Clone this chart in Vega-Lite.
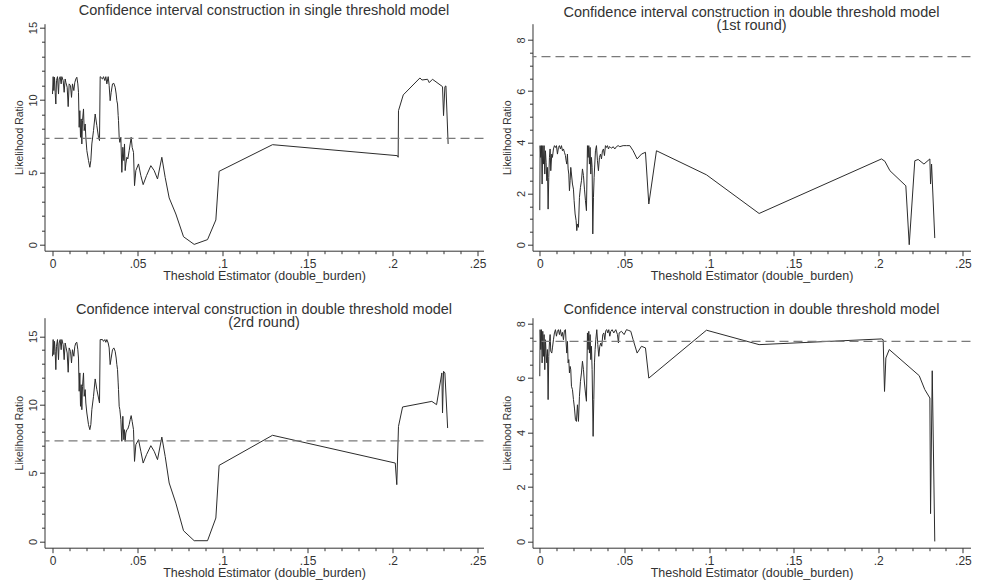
{
  "$schema": "https://vega.github.io/schema/vega-lite/v6.json",
  "background": "white",
  "padding": {"left": 14.5, "top": 2.7, "right": 5, "bottom": 5},
  "datasets": {
    "crit": [{"lr": 7.35}],
    "p1": [
      {"x":0,"lr":10.41},{"x":0.00039,"lr":11.61},{"x":0.00078,"lr":10.65},{"x":0.00118,"lr":11.57},{"x":0.00157,"lr":10.53},{"x":0.00196,"lr":9.72},{"x":0.00235,"lr":11.34},{"x":0.00294,"lr":11.61},{"x":0.00353,"lr":10.41},{"x":0.00392,"lr":11.45},{"x":0.00451,"lr":11.61},{"x":0.0051,"lr":11.11},{"x":0.00549,"lr":11.61},{"x":0.00627,"lr":11.34},{"x":0.00686,"lr":10.53},{"x":0.00745,"lr":11.45},{"x":0.00784,"lr":11.22},{"x":0.00863,"lr":10.88},{"x":0.00922,"lr":9.54},{"x":0.0098,"lr":11.11},{"x":0.01059,"lr":10.99},{"x":0.01118,"lr":10.18},{"x":0.01176,"lr":11.11},{"x":0.01255,"lr":10.65},{"x":0.01314,"lr":11.22},{"x":0.01373,"lr":11.45},{"x":0.01431,"lr":11.57},{"x":0.0149,"lr":11.11},{"x":0.01529,"lr":10.53},{"x":0.01569,"lr":8.11},{"x":0.01608,"lr":9.26},{"x":0.01647,"lr":7.42},{"x":0.01686,"lr":8.69},{"x":0.01725,"lr":6.96},{"x":0.01765,"lr":8.57},{"x":0.01824,"lr":9.38},{"x":0.01863,"lr":7.88},{"x":0.01922,"lr":8.34},{"x":0.01961,"lr":7.42},{"x":0.0202,"lr":6.5},{"x":0.02118,"lr":5.81},{"x":0.02196,"lr":5.35},{"x":0.02255,"lr":5.81},{"x":0.02314,"lr":6.96},{"x":0.02412,"lr":7.88},{"x":0.0251,"lr":9.03},{"x":0.02608,"lr":8.23},{"x":0.02706,"lr":7.42},{"x":0.02765,"lr":7.19},{"x":0.02804,"lr":11.61},{"x":0.02941,"lr":11.45},{"x":0.03,"lr":11.61},{"x":0.03078,"lr":11.34},{"x":0.03137,"lr":11.61},{"x":0.03196,"lr":11.11},{"x":0.03275,"lr":11.61},{"x":0.03333,"lr":10.99},{"x":0.03392,"lr":9.95},{"x":0.03451,"lr":10.53},{"x":0.03529,"lr":11.11},{"x":0.03608,"lr":11.15},{"x":0.03686,"lr":10.88},{"x":0.03745,"lr":10.41},{"x":0.03784,"lr":9.95},{"x":0.03824,"lr":9.72},{"x":0.03863,"lr":8.92},{"x":0.03882,"lr":8.57},{"x":0.03922,"lr":7.42},{"x":0.03961,"lr":7.07},{"x":0.0402,"lr":7.42},{"x":0.04078,"lr":5.0},{"x":0.04137,"lr":6.73},{"x":0.04196,"lr":5.81},{"x":0.04235,"lr":6.96},{"x":0.04275,"lr":5.12},{"x":0.04314,"lr":5.58},{"x":0.04373,"lr":6.04},{"x":0.04431,"lr":5.92},{"x":0.0451,"lr":6.5},{"x":0.04569,"lr":6.96},{"x":0.04627,"lr":7.42},{"x":0.04686,"lr":6.73},{"x":0.04765,"lr":6.38},{"x":0.04824,"lr":4.08},{"x":0.04902,"lr":5.12},{"x":0.05059,"lr":5.58},{"x":0.05196,"lr":4.77},{"x":0.05333,"lr":4.15},{"x":0.05529,"lr":4.77},{"x":0.05784,"lr":5.46},{"x":0.0598,"lr":5.12},{"x":0.06176,"lr":4.54},{"x":0.06431,"lr":6.04},{"x":0.06627,"lr":4.65},{"x":0.06863,"lr":3.23},{"x":0.07255,"lr":2.12},{"x":0.07706,"lr":0.55},{"x":0.08333,"lr":0.02},{"x":0.09118,"lr":0.35},{"x":0.09608,"lr":1.71},{"x":0.098,"lr":5.07},{"x":0.1294,"lr":6.91},{"x":0.2029,"lr":6.15},{"x":0.2033,"lr":6.04},{"x":0.2035,"lr":9.26},{"x":0.2063,"lr":10.35},{"x":0.2161,"lr":11.52},{"x":0.2173,"lr":11.38},{"x":0.2206,"lr":11.43},{"x":0.2216,"lr":11.2},{"x":0.2235,"lr":11.43},{"x":0.2294,"lr":10.92},{"x":0.23,"lr":8.92},{"x":0.2308,"lr":10.92},{"x":0.2314,"lr":10.97},{"x":0.2327,"lr":6.96}
    ],
    "p2": [
      {"x":0,"lr":1.35},{"x":0.0002,"lr":3.87},{"x":0.00059,"lr":3.41},{"x":0.00099,"lr":3.87},{"x":0.00138,"lr":2.37},{"x":0.00177,"lr":3.87},{"x":0.00217,"lr":3.15},{"x":0.00256,"lr":3.87},{"x":0.00296,"lr":2.76},{"x":0.00335,"lr":3.67},{"x":0.00374,"lr":3.22},{"x":0.00414,"lr":2.5},{"x":0.00453,"lr":3.02},{"x":0.00493,"lr":1.39},{"x":0.00532,"lr":2.63},{"x":0.00571,"lr":3.41},{"x":0.00611,"lr":3.74},{"x":0.0065,"lr":2.89},{"x":0.00709,"lr":3.54},{"x":0.00749,"lr":3.41},{"x":0.00808,"lr":3.74},{"x":0.00867,"lr":3.87},{"x":0.00926,"lr":3.8},{"x":0.00985,"lr":3.87},{"x":0.01044,"lr":3.54},{"x":0.01103,"lr":3.8},{"x":0.01162,"lr":3.87},{"x":0.01221,"lr":3.74},{"x":0.01281,"lr":3.87},{"x":0.0134,"lr":3.67},{"x":0.01399,"lr":3.74},{"x":0.01458,"lr":3.61},{"x":0.01517,"lr":3.48},{"x":0.01556,"lr":3.28},{"x":0.01596,"lr":3.15},{"x":0.01635,"lr":3.54},{"x":0.01675,"lr":2.96},{"x":0.01714,"lr":2.76},{"x":0.01753,"lr":2.11},{"x":0.01793,"lr":2.5},{"x":0.01832,"lr":3.02},{"x":0.01872,"lr":2.76},{"x":0.01931,"lr":2.37},{"x":0.0199,"lr":2.17},{"x":0.02029,"lr":1.72},{"x":0.02088,"lr":1.2},{"x":0.02147,"lr":0.94},{"x":0.02187,"lr":0.55},{"x":0.02226,"lr":0.81},{"x":0.02285,"lr":0.68},{"x":0.02344,"lr":1.85},{"x":0.02403,"lr":2.24},{"x":0.02463,"lr":2.5},{"x":0.02522,"lr":2.96},{"x":0.02581,"lr":2.7},{"x":0.0264,"lr":2.17},{"x":0.02699,"lr":1.72},{"x":0.02758,"lr":1.33},{"x":0.02817,"lr":3.87},{"x":0.02857,"lr":3.41},{"x":0.02896,"lr":3.87},{"x":0.02935,"lr":3.15},{"x":0.02975,"lr":3.8},{"x":0.03014,"lr":2.76},{"x":0.03054,"lr":3.41},{"x":0.03093,"lr":3.02},{"x":0.03132,"lr":0.42},{"x":0.03172,"lr":1.85},{"x":0.03211,"lr":2.63},{"x":0.03251,"lr":3.15},{"x":0.0329,"lr":3.67},{"x":0.03349,"lr":3.87},{"x":0.03408,"lr":3.28},{"x":0.03467,"lr":2.89},{"x":0.03526,"lr":3.41},{"x":0.03586,"lr":3.54},{"x":0.03645,"lr":3.35},{"x":0.03704,"lr":3.67},{"x":0.03763,"lr":3.74},{"x":0.03822,"lr":3.48},{"x":0.03881,"lr":3.87},{"x":0.0394,"lr":3.8},{"x":0.03999,"lr":3.87},{"x":0.04058,"lr":3.74},{"x":0.04117,"lr":3.83},{"x":0.04177,"lr":3.8},{"x":0.04255,"lr":3.77},{"x":0.04334,"lr":3.83},{"x":0.04433,"lr":3.74},{"x":0.04531,"lr":3.83},{"x":0.0463,"lr":3.87},{"x":0.04728,"lr":3.83},{"x":0.04925,"lr":3.87},{"x":0.05122,"lr":3.87},{"x":0.05319,"lr":3.87},{"x":0.05516,"lr":3.67},{"x":0.05753,"lr":3.35},{"x":0.06009,"lr":3.54},{"x":0.06245,"lr":3.61},{"x":0.06442,"lr":1.59},{"x":0.06895,"lr":3.67},{"x":0.0985,"lr":2.73},{"x":0.1296,"lr":1.22},{"x":0.2019,"lr":3.35},{"x":0.2039,"lr":3.26},{"x":0.2069,"lr":2.89},{"x":0.2163,"lr":2.3},{"x":0.2183,"lr":0.0},{"x":0.2216,"lr":3.28},{"x":0.2236,"lr":3.33},{"x":0.227,"lr":3.15},{"x":0.2305,"lr":3.35},{"x":0.2309,"lr":2.37},{"x":0.2315,"lr":3.15},{"x":0.2334,"lr":0.26}
    ],
    "p3": [
      {"x":0,"lr":13.54},{"x":0.00039,"lr":14.76},{"x":0.00078,"lr":13.66},{"x":0.00118,"lr":14.63},{"x":0.00157,"lr":13.9},{"x":0.00196,"lr":12.56},{"x":0.00235,"lr":14.27},{"x":0.00294,"lr":14.76},{"x":0.00353,"lr":13.29},{"x":0.00392,"lr":14.51},{"x":0.00451,"lr":14.76},{"x":0.0051,"lr":14.02},{"x":0.00549,"lr":14.76},{"x":0.00627,"lr":14.39},{"x":0.00686,"lr":13.29},{"x":0.00745,"lr":14.51},{"x":0.00784,"lr":14.27},{"x":0.00863,"lr":13.78},{"x":0.00922,"lr":12.37},{"x":0.0098,"lr":14.15},{"x":0.01059,"lr":13.9},{"x":0.01118,"lr":13.05},{"x":0.01176,"lr":14.02},{"x":0.01255,"lr":13.54},{"x":0.01314,"lr":14.27},{"x":0.01373,"lr":14.51},{"x":0.01431,"lr":14.56},{"x":0.0149,"lr":14.02},{"x":0.01529,"lr":13.41},{"x":0.01569,"lr":10.98},{"x":0.01608,"lr":12.32},{"x":0.01647,"lr":9.88},{"x":0.01686,"lr":11.46},{"x":0.01725,"lr":9.63},{"x":0.01765,"lr":11.34},{"x":0.01824,"lr":12.32},{"x":0.01863,"lr":10.61},{"x":0.01922,"lr":11.1},{"x":0.01961,"lr":10.12},{"x":0.0202,"lr":9.39},{"x":0.02118,"lr":8.54},{"x":0.02196,"lr":8.17},{"x":0.02255,"lr":8.54},{"x":0.02314,"lr":9.63},{"x":0.02412,"lr":10.61},{"x":0.0251,"lr":11.88},{"x":0.02608,"lr":11.1},{"x":0.02706,"lr":10.49},{"x":0.02765,"lr":10.12},{"x":0.02804,"lr":14.76},{"x":0.02941,"lr":14.76},{"x":0.03,"lr":14.63},{"x":0.03078,"lr":14.76},{"x":0.03137,"lr":14.56},{"x":0.03196,"lr":14.76},{"x":0.03275,"lr":14.51},{"x":0.03333,"lr":14.15},{"x":0.03392,"lr":12.93},{"x":0.03451,"lr":13.41},{"x":0.03529,"lr":14.02},{"x":0.03608,"lr":14.15},{"x":0.03686,"lr":13.9},{"x":0.03745,"lr":13.41},{"x":0.03784,"lr":12.93},{"x":0.03824,"lr":12.56},{"x":0.03863,"lr":11.59},{"x":0.03882,"lr":11.1},{"x":0.03922,"lr":9.88},{"x":0.03961,"lr":9.63},{"x":0.0402,"lr":8.9},{"x":0.04078,"lr":7.32},{"x":0.04137,"lr":9.15},{"x":0.04196,"lr":7.44},{"x":0.04235,"lr":8.17},{"x":0.04275,"lr":7.32},{"x":0.04314,"lr":7.93},{"x":0.04373,"lr":8.17},{"x":0.04431,"lr":8.22},{"x":0.0451,"lr":8.54},{"x":0.04569,"lr":8.9},{"x":0.04627,"lr":9.2},{"x":0.04686,"lr":8.78},{"x":0.04765,"lr":8.17},{"x":0.04824,"lr":5.85},{"x":0.04902,"lr":7.07},{"x":0.05059,"lr":7.44},{"x":0.05196,"lr":6.59},{"x":0.05333,"lr":5.73},{"x":0.05529,"lr":6.34},{"x":0.05784,"lr":7.0},{"x":0.0598,"lr":6.59},{"x":0.06176,"lr":5.98},{"x":0.06431,"lr":7.63},{"x":0.06627,"lr":6.22},{"x":0.06863,"lr":4.27},{"x":0.07255,"lr":2.8},{"x":0.07706,"lr":0.78},{"x":0.08333,"lr":0.05},{"x":0.09118,"lr":0.05},{"x":0.09608,"lr":1.71},{"x":0.098,"lr":5.56},{"x":0.1294,"lr":7.76},{"x":0.2016,"lr":5.73},{"x":0.2025,"lr":4.15},{"x":0.2035,"lr":8.41},{"x":0.2059,"lr":9.83},{"x":0.2231,"lr":10.24},{"x":0.2259,"lr":10.0},{"x":0.229,"lr":12.32},{"x":0.2294,"lr":9.39},{"x":0.23,"lr":12.44},{"x":0.2308,"lr":12.32},{"x":0.2324,"lr":8.29}
    ],
    "p4": [
      {"x":0,"lr":6.07},{"x":0.0002,"lr":7.78},{"x":0.00059,"lr":7.05},{"x":0.00099,"lr":7.78},{"x":0.00138,"lr":6.56},{"x":0.00177,"lr":7.72},{"x":0.00217,"lr":6.8},{"x":0.00256,"lr":7.6},{"x":0.00296,"lr":6.31},{"x":0.00335,"lr":7.41},{"x":0.00374,"lr":6.92},{"x":0.00414,"lr":6.56},{"x":0.00453,"lr":7.05},{"x":0.00493,"lr":5.21},{"x":0.00532,"lr":6.8},{"x":0.00571,"lr":7.29},{"x":0.00611,"lr":7.6},{"x":0.0065,"lr":6.99},{"x":0.00709,"lr":6.92},{"x":0.00749,"lr":7.11},{"x":0.00808,"lr":7.41},{"x":0.00867,"lr":7.66},{"x":0.00926,"lr":7.78},{"x":0.00985,"lr":7.54},{"x":0.01044,"lr":7.72},{"x":0.01103,"lr":7.78},{"x":0.01162,"lr":7.6},{"x":0.01221,"lr":7.78},{"x":0.01281,"lr":7.54},{"x":0.0134,"lr":7.68},{"x":0.01399,"lr":7.41},{"x":0.01458,"lr":7.75},{"x":0.01517,"lr":7.78},{"x":0.01556,"lr":7.29},{"x":0.01596,"lr":6.92},{"x":0.01635,"lr":7.35},{"x":0.01675,"lr":6.56},{"x":0.01714,"lr":6.68},{"x":0.01753,"lr":6.19},{"x":0.01793,"lr":6.43},{"x":0.01832,"lr":6.31},{"x":0.01872,"lr":5.7},{"x":0.01931,"lr":5.58},{"x":0.0199,"lr":5.21},{"x":0.02049,"lr":4.9},{"x":0.02108,"lr":4.47},{"x":0.02167,"lr":4.41},{"x":0.02226,"lr":5.02},{"x":0.02285,"lr":4.41},{"x":0.02344,"lr":5.33},{"x":0.02403,"lr":5.88},{"x":0.02463,"lr":6.19},{"x":0.02522,"lr":6.62},{"x":0.02581,"lr":6.31},{"x":0.0264,"lr":5.82},{"x":0.02699,"lr":5.45},{"x":0.02758,"lr":5.15},{"x":0.02817,"lr":7.66},{"x":0.02857,"lr":7.05},{"x":0.02896,"lr":7.72},{"x":0.02935,"lr":6.92},{"x":0.02975,"lr":7.6},{"x":0.03014,"lr":6.68},{"x":0.03054,"lr":7.17},{"x":0.03093,"lr":6.31},{"x":0.03152,"lr":3.86},{"x":0.03192,"lr":5.21},{"x":0.03231,"lr":6.56},{"x":0.0327,"lr":7.05},{"x":0.0331,"lr":7.41},{"x":0.03369,"lr":7.78},{"x":0.03428,"lr":7.23},{"x":0.03487,"lr":6.8},{"x":0.03546,"lr":7.17},{"x":0.03605,"lr":7.29},{"x":0.03664,"lr":7.17},{"x":0.03723,"lr":7.6},{"x":0.03783,"lr":7.66},{"x":0.03842,"lr":7.41},{"x":0.03901,"lr":7.75},{"x":0.0396,"lr":7.78},{"x":0.04019,"lr":7.66},{"x":0.04078,"lr":7.78},{"x":0.04137,"lr":7.54},{"x":0.04196,"lr":7.72},{"x":0.04275,"lr":7.78},{"x":0.04373,"lr":7.66},{"x":0.04492,"lr":7.78},{"x":0.0459,"lr":7.6},{"x":0.04649,"lr":7.29},{"x":0.04689,"lr":7.66},{"x":0.04827,"lr":7.72},{"x":0.04984,"lr":7.6},{"x":0.05122,"lr":7.78},{"x":0.0526,"lr":7.75},{"x":0.05378,"lr":7.72},{"x":0.05516,"lr":7.41},{"x":0.05753,"lr":6.92},{"x":0.06009,"lr":7.17},{"x":0.06245,"lr":7.11},{"x":0.06442,"lr":6.0},{"x":0.0985,"lr":7.76},{"x":0.1296,"lr":7.23},{"x":0.2019,"lr":7.44},{"x":0.2029,"lr":7.41},{"x":0.2037,"lr":5.51},{"x":0.2045,"lr":6.74},{"x":0.2065,"lr":7.05},{"x":0.2242,"lr":6.09},{"x":0.2275,"lr":5.58},{"x":0.2305,"lr":5.27},{"x":0.2309,"lr":1.02},{"x":0.2319,"lr":6.27},{"x":0.2334,"lr":0.0}
    ]
  },
  "columns": 2,
  "spacing": {"row": 19, "column": 16},
  "concat": [
    {
      "width": 439, "height": 227,
      "title": {"text": "Confidence interval construction in single threshold model", "offset": 2.8},
      "layer": [
        {
          "data": {"name": "p1"},
          "mark": {"type": "line", "color": "#2b2b2b", "strokeWidth": 1},
          "encoding": {
            "x": {"field": "x", "type": "quantitative", "scale": {"domain": [-0.0047, 0.2535], "nice": false, "zero": false},
              "axis": {"values": [0,0.01,0.02,0.03,0.04,0.05,0.06,0.07,0.08,0.09,0.1,0.11,0.12,0.13,0.14,0.15,0.16,0.17,0.18,0.19,0.2,0.21,0.22,0.23,0.24,0.25], "title": "Theshold Estimator (double_burden)", "labelOverlap": false,
                "tickSize": {"condition": {"test": "abs(datum.value*20-round(datum.value*20))<0.000001", "value": 5}, "value": 3},
                "labelExpr": "abs(datum.value*20-round(datum.value*20))<0.000001 ? (datum.value == 0 ? '0' : replace(format(datum.value, '.2~f'), '0.', '.')) : ''"}},
            "y": {"field": "lr", "type": "quantitative", "scale": {"domain": [-0.415, 15.27], "nice": false, "zero": false},
              "axis": {"values": [0,1,2,3,4,5,6,7,8,9,10,11,12,13,14,15], "title": "Likelihood Ratio", "labelOverlap": false,
                "tickSize": {"condition": {"test": "abs(datum.value/5-round(datum.value/5))<0.000001", "value": 5}, "value": 3},
                "labelExpr": "abs(datum.value/5-round(datum.value/5))<0.000001 ? format(datum.value, 'd') : ''"}}
          }
        },
        {
          "data": {"name": "crit"},
          "mark": {"type": "rule", "color": "#7a7a7a", "strokeDash": [9, 5], "strokeWidth": 1.3},
          "encoding": {"y": {"field": "lr", "type": "quantitative",
              "axis": {"values": [0,1,2,3,4,5,6,7,8,9,10,11,12,13,14,15], "title": "Likelihood Ratio", "labelOverlap": false,
                "tickSize": {"condition": {"test": "abs(datum.value/5-round(datum.value/5))<0.000001", "value": 5}, "value": 3},
                "labelExpr": "abs(datum.value/5-round(datum.value/5))<0.000001 ? format(datum.value, 'd') : ''"}}}
        }
      ]
    },
    {
      "width": 438, "height": 227,
      "title": {"text": ["Confidence interval construction in double threshold model", "(1st round)"], "offset": -10.2},
      "layer": [
        {
          "data": {"name": "p2"},
          "mark": {"type": "line", "color": "#2b2b2b", "strokeWidth": 1},
          "encoding": {
            "x": {"field": "x", "type": "quantitative", "scale": {"domain": [-0.0043, 0.2545], "nice": false, "zero": false},
              "axis": {"values": [0,0.01,0.02,0.03,0.04,0.05,0.06,0.07,0.08,0.09,0.1,0.11,0.12,0.13,0.14,0.15,0.16,0.17,0.18,0.19,0.2,0.21,0.22,0.23,0.24,0.25], "title": "Theshold Estimator (double_burden)", "labelOverlap": false,
                "tickSize": {"condition": {"test": "abs(datum.value*20-round(datum.value*20))<0.000001", "value": 5}, "value": 3},
                "labelExpr": "abs(datum.value*20-round(datum.value*20))<0.000001 ? (datum.value == 0 ? '0' : replace(format(datum.value, '.2~f'), '0.', '.')) : ''"}},
            "y": {"field": "lr", "type": "quantitative", "scale": {"domain": [-0.234, 8.633], "nice": false, "zero": false},
              "axis": {"values": [0,0.5,1,1.5,2,2.5,3,3.5,4,4.5,5,5.5,6,6.5,7,7.5,8], "title": "Likelihood Ratio", "labelOverlap": false,
                "tickSize": {"condition": {"test": "abs(datum.value/2-round(datum.value/2))<0.000001", "value": 5}, "value": 3},
                "labelExpr": "abs(datum.value/2-round(datum.value/2))<0.000001 ? format(datum.value, 'd') : ''"}}
          }
        },
        {
          "data": {"name": "crit"},
          "mark": {"type": "rule", "color": "#7a7a7a", "strokeDash": [9, 5], "strokeWidth": 1.3},
          "encoding": {"y": {"field": "lr", "type": "quantitative",
              "axis": {"values": [0,0.5,1,1.5,2,2.5,3,3.5,4,4.5,5,5.5,6,6.5,7,7.5,8], "title": "Likelihood Ratio", "labelOverlap": false,
                "tickSize": {"condition": {"test": "abs(datum.value/2-round(datum.value/2))<0.000001", "value": 5}, "value": 3},
                "labelExpr": "abs(datum.value/2-round(datum.value/2))<0.000001 ? format(datum.value, 'd') : ''"}}}
        }
      ]
    },
    {
      "width": 439, "height": 230,
      "title": {"text": ["Confidence interval construction in double threshold model", "(2rd round)"], "offset": -13.2},
      "layer": [
        {
          "data": {"name": "p3"},
          "mark": {"type": "line", "color": "#2b2b2b", "strokeWidth": 1},
          "encoding": {
            "x": {"field": "x", "type": "quantitative", "scale": {"domain": [-0.0047, 0.2535], "nice": false, "zero": false},
              "axis": {"values": [0,0.01,0.02,0.03,0.04,0.05,0.06,0.07,0.08,0.09,0.1,0.11,0.12,0.13,0.14,0.15,0.16,0.17,0.18,0.19,0.2,0.21,0.22,0.23,0.24,0.25], "title": "Theshold Estimator (double_burden)", "labelOverlap": false,
                "tickSize": {"condition": {"test": "abs(datum.value*20-round(datum.value*20))<0.000001", "value": 5}, "value": 3},
                "labelExpr": "abs(datum.value*20-round(datum.value*20))<0.000001 ? (datum.value == 0 ? '0' : replace(format(datum.value, '.2~f'), '0.', '.')) : ''"}},
            "y": {"field": "lr", "type": "quantitative", "scale": {"domain": [-0.46, 16.36], "nice": false, "zero": false},
              "axis": {"values": [0,1,2,3,4,5,6,7,8,9,10,11,12,13,14,15], "title": "Likelihood Ratio", "labelOverlap": false,
                "tickSize": {"condition": {"test": "abs(datum.value/5-round(datum.value/5))<0.000001", "value": 5}, "value": 3},
                "labelExpr": "abs(datum.value/5-round(datum.value/5))<0.000001 ? format(datum.value, 'd') : ''"}}
          }
        },
        {
          "data": {"name": "crit"},
          "mark": {"type": "rule", "color": "#7a7a7a", "strokeDash": [9, 5], "strokeWidth": 1.3},
          "encoding": {"y": {"field": "lr", "type": "quantitative",
              "axis": {"values": [0,1,2,3,4,5,6,7,8,9,10,11,12,13,14,15], "title": "Likelihood Ratio", "labelOverlap": false,
                "tickSize": {"condition": {"test": "abs(datum.value/5-round(datum.value/5))<0.000001", "value": 5}, "value": 3},
                "labelExpr": "abs(datum.value/5-round(datum.value/5))<0.000001 ? format(datum.value, 'd') : ''"}}}
        }
      ]
    },
    {
      "width": 438, "height": 230,
      "title": {"text": "Confidence interval construction in double threshold model", "offset": -0.2},
      "layer": [
        {
          "data": {"name": "p4"},
          "mark": {"type": "line", "color": "#2b2b2b", "strokeWidth": 1},
          "encoding": {
            "x": {"field": "x", "type": "quantitative", "scale": {"domain": [-0.0043, 0.2545], "nice": false, "zero": false},
              "axis": {"values": [0,0.01,0.02,0.03,0.04,0.05,0.06,0.07,0.08,0.09,0.1,0.11,0.12,0.13,0.14,0.15,0.16,0.17,0.18,0.19,0.2,0.21,0.22,0.23,0.24,0.25], "title": "Theshold Estimator (double_burden)", "labelOverlap": false,
                "tickSize": {"condition": {"test": "abs(datum.value*20-round(datum.value*20))<0.000001", "value": 5}, "value": 3},
                "labelExpr": "abs(datum.value*20-round(datum.value*20))<0.000001 ? (datum.value == 0 ? '0' : replace(format(datum.value, '.2~f'), '0.', '.')) : ''"}},
            "y": {"field": "lr", "type": "quantitative", "scale": {"domain": [-0.23, 8.22], "nice": false, "zero": false},
              "axis": {"values": [0,0.5,1,1.5,2,2.5,3,3.5,4,4.5,5,5.5,6,6.5,7,7.5,8], "title": "Likelihood Ratio", "labelOverlap": false,
                "tickSize": {"condition": {"test": "abs(datum.value/2-round(datum.value/2))<0.000001", "value": 5}, "value": 3},
                "labelExpr": "abs(datum.value/2-round(datum.value/2))<0.000001 ? format(datum.value, 'd') : ''"}}
          }
        },
        {
          "data": {"name": "crit"},
          "mark": {"type": "rule", "color": "#7a7a7a", "strokeDash": [9, 5], "strokeWidth": 1.3},
          "encoding": {"y": {"field": "lr", "type": "quantitative",
              "axis": {"values": [0,0.5,1,1.5,2,2.5,3,3.5,4,4.5,5,5.5,6,6.5,7,7.5,8], "title": "Likelihood Ratio", "labelOverlap": false,
                "tickSize": {"condition": {"test": "abs(datum.value/2-round(datum.value/2))<0.000001", "value": 5}, "value": 3},
                "labelExpr": "abs(datum.value/2-round(datum.value/2))<0.000001 ? format(datum.value, 'd') : ''"}}}
        }
      ]
    }
  ],
  "config": {
    "view": {"stroke": null},
    "font": "Liberation Sans",
    "title": {"font": "Liberation Sans", "fontSize": 14.5, "fontWeight": "normal", "color": "#333333", "anchor": "middle", "frame": "group", "lineHeight": 13},
    "axis": {"grid": false, "domainColor": "#333333", "tickColor": "#333333", "labelColor": "#333333", "titleColor": "#333333",
      "labelFont": "Liberation Sans", "titleFont": "Liberation Sans", "titleFontWeight": "normal", "labelOverlap": false, "labelFlush": false,
      "domainWidth": 1, "tickWidth": 1},
    "axisX": {"labelFontSize": 12, "titleFontSize": 12.5, "labelPadding": 3, "titlePadding": 0},
    "axisY": {"labelFontSize": 11, "titleFontSize": 10.5, "labelPadding": 1, "titlePadding": 3, "labelAngle": 270, "labelAlign": "center", "labelBaseline": "bottom"}
  }
}
